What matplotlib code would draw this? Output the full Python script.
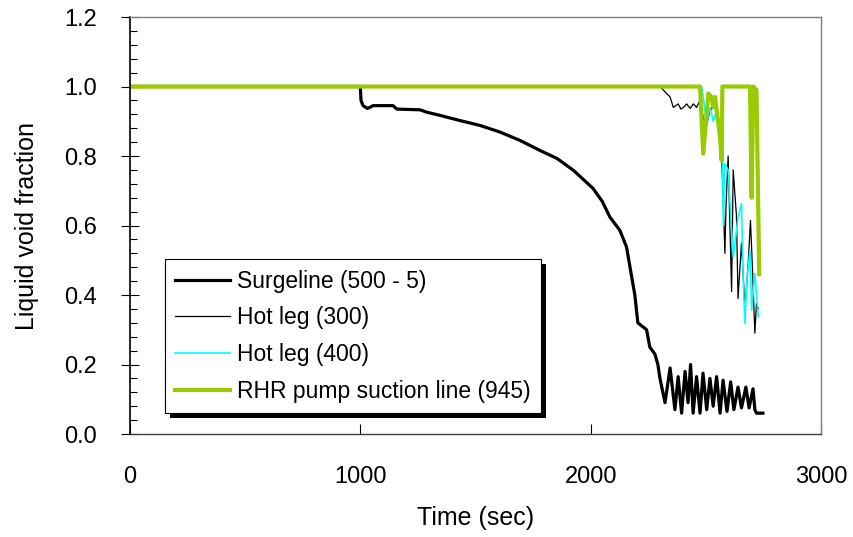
import numpy as np
import matplotlib
matplotlib.use("Agg")
import matplotlib.pyplot as plt
import matplotlib.patheffects as pe
from matplotlib.ticker import MultipleLocator

plt.rcParams["font.family"] = ["Liberation Sans", "DejaVu Sans"]

# --- data ---
surge_t = [0, 1000, 1003, 1012, 1030, 1042, 1055, 1142, 1159, 1259, 1289, 1346,
           1433, 1520, 1606, 1693, 1780, 1854, 1925, 2010, 2050, 2084, 2127,
           2156, 2171, 2192, 2205, 2243, 2257, 2279, 2292, 2301, 2323, 2345,
           2366, 2380, 2395, 2410, 2423, 2434, 2445, 2460, 2475, 2488, 2504,
           2518, 2532, 2547, 2562, 2575, 2592, 2608, 2622, 2640, 2655, 2674,
           2688, 2705, 2713, 2720, 2748]
surge_v = [1.0, 1.0, 0.96, 0.945, 0.937, 0.94, 0.945, 0.945, 0.935, 0.933, 0.926,
           0.917, 0.902, 0.888, 0.869, 0.845, 0.816, 0.793, 0.759, 0.707, 0.67,
           0.624, 0.586, 0.538, 0.48, 0.40, 0.32, 0.30, 0.25, 0.23, 0.20, 0.16,
           0.09, 0.19, 0.07, 0.165, 0.06, 0.18, 0.09, 0.20, 0.06, 0.165, 0.06,
           0.175, 0.07, 0.16, 0.08, 0.165, 0.06, 0.155, 0.065, 0.15, 0.07, 0.135,
           0.075, 0.135, 0.075, 0.13, 0.07, 0.06, 0.06]

hot300_t = [0, 2301, 2330, 2345, 2359, 2370, 2380, 2392, 2403, 2417, 2432, 2446,
            2460, 2475, 2489, 2504, 2518, 2540, 2554, 2569, 2583, 2588, 2597,
            2612, 2619, 2633, 2640, 2655, 2670, 2684, 2694, 2703, 2713, 2720,
            2728]
hot300_v = [1.0, 1.0, 0.98, 0.97, 0.94, 0.945, 0.95, 0.935, 0.94, 0.95, 0.937,
            0.95, 0.94, 0.96, 0.91, 0.89, 0.93, 0.95, 0.88, 0.80, 0.52, 0.66,
            0.80, 0.41, 0.76, 0.63, 0.39, 0.55, 0.36, 0.49, 0.615, 0.47, 0.29,
            0.375, 0.36]

hot400_t = [0, 2482, 2489, 2504, 2518, 2532, 2547, 2562, 2572, 2576, 2583, 2597,
            2619, 2640, 2655, 2662, 2670, 2677, 2692, 2699, 2713, 2728]
hot400_v = [1.0, 1.0, 0.97, 0.89, 0.94, 0.90, 0.93, 0.854, 0.874, 0.60, 0.778,
            0.76, 0.51, 0.624, 0.663, 0.452, 0.318, 0.433, 0.529, 0.356, 0.462,
            0.337]

rhr_t = [0, 2475, 2489, 2511, 2525, 2532, 2540, 2562, 2569, 2572, 2692, 2699,
         2706, 2720, 2732]
rhr_v = [1.0, 1.0, 0.807, 0.98, 0.97, 0.94, 0.97, 0.854, 0.787, 1.0, 1.0, 0.68,
         1.0, 0.99, 0.46]

labels = ["Surgeline (500 - 5)", "Hot leg (300)", "Hot leg (400)",
          "RHR pump suction line (945)"]
x_ticks = [0, 1000, 2000, 3000]
y_ticks = [0.0, 0.2, 0.4, 0.6, 0.8, 1.0, 1.2]


def main():
    fig = plt.figure(figsize=(8.54, 5.37), dpi=100)
    ax = fig.add_axes([0.1522, 0.1918, 0.8091, 0.7765])

    ax.plot(surge_t, surge_v, color="black", lw=2.3, label=labels[0])
    ax.plot(hot300_t, hot300_v, color="black", lw=0.9, label=labels[1])
    ax.plot(hot400_t, hot400_v, color="#00FFFF", lw=1.2, label=labels[2])
    ax.plot(rhr_t, rhr_v, color="#99CC00", lw=3.0, label=labels[3])

    ax.set_xlim(0, 3000)
    ax.set_ylim(0, 1.2)
    ax.set_xticks(x_ticks)
    ax.set_xticklabels([str(t) for t in x_ticks])
    ax.set_yticks(y_ticks)
    ax.set_yticklabels([f"{v:.1f}" for v in y_ticks])
    ax.yaxis.set_minor_locator(MultipleLocator(0.04))

    ax.tick_params(axis="x", direction="in", length=7, width=0.8,
                   pad=23, labelsize=17)
    ax.tick_params(axis="y", which="major", direction="inout", length=13,
                   width=0.8, pad=17, labelsize=17)
    ax.tick_params(axis="y", which="minor", direction="in", length=5,
                   width=0.8)

    ax.spines["left"].set_color("black")
    ax.spines["left"].set_linewidth(1.2)
    for side in ["top", "right", "bottom"]:
        ax.spines[side].set_color("#7f7f7f")
        ax.spines[side].set_linewidth(1.0)
    ax.spines["bottom"].set_color("#404040")

    ax.set_xlabel("Time (sec)", fontsize=18, labelpad=13)
    ax.set_ylabel("Liquid void fraction", fontsize=18, labelpad=18)

    leg = ax.legend(loc="upper left", bbox_to_anchor=(0.0507, 0.4187),
                    borderaxespad=0, fontsize=16.5, frameon=True,
                    fancybox=False, edgecolor="black", framealpha=1,
                    handlelength=2.4, handletextpad=0.3, labelspacing=0.6,
                    borderpad=0.45)
    frame = leg.get_frame()
    frame.set_linewidth(0.8)
    frame.set_path_effects([
        pe.SimplePatchShadow(offset=(3.6, -3.6), shadow_rgbFace="black",
                             alpha=1.0),
        pe.Normal(),
    ])

    fig.savefig("out.png", dpi=100)
    plt.close(fig)


if __name__ == "__main__":
    main()
